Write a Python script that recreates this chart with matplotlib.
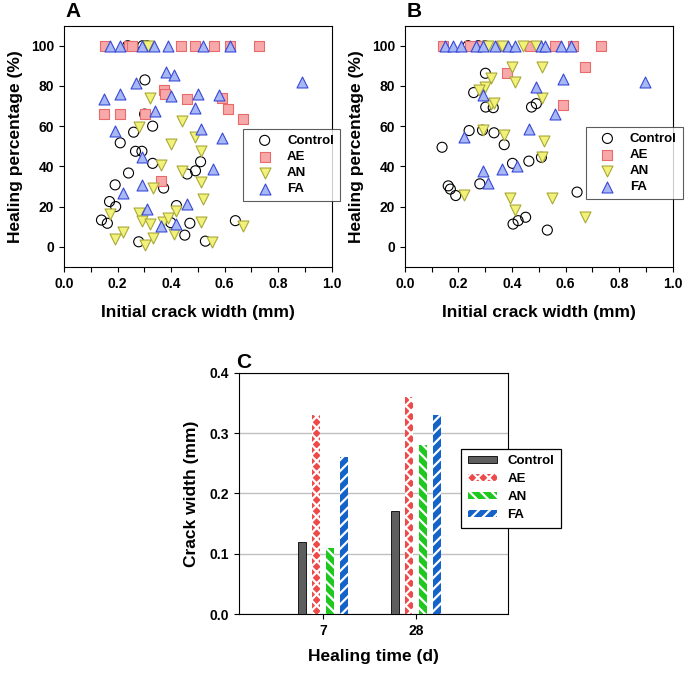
import matplotlib
matplotlib.use("Agg")
import matplotlib.pyplot as plt
import numpy as np
from matplotlib.ticker import MultipleLocator

plt.rcParams['font.family'] = ['Liberation Sans', 'DejaVu Sans']
plt.rcParams['font.weight'] = 'bold'
plt.rcParams['axes.labelweight'] = 'bold'
plt.rcParams['hatch.linewidth'] = 1.6

# --- Panel A data (initial crack width mm, healing %) ---
ctrl_a_x = [0.238, 0.294, 0.31, 0.302, 0.301, 0.331, 0.260, 0.210, 0.267, 0.291, 0.331, 0.510, 0.491,
            0.460, 0.241, 0.191, 0.372, 0.170, 0.193, 0.42, 0.140, 0.162, 0.399, 0.470, 0.640, 0.451,
            0.279, 0.528]
ctrl_a_y = [100, 100, 100, 83, 66, 60, 57, 51.7, 47.5, 47.5, 41.5, 42.3, 37.8, 36.2, 36.7, 30.8, 29.2,
            22.5, 20, 20.5, 13.3, 11.7, 12, 11.7, 13, 5.8, 2.5, 2.8]
ae_a_x = [0.152, 0.244, 0.254, 0.436, 0.491, 0.559, 0.621, 0.730, 0.372, 0.378, 0.460, 0.590, 0.611,
          0.670, 0.149, 0.210, 0.302, 0.362]
ae_a_y = [100, 100, 100, 100, 100, 100, 100, 100, 77.8, 75.8, 73.3, 74.2, 68.3, 63.7, 66.2, 66.2,
          66.2, 32.5]
an_a_x = [0.312, 0.321, 0.442, 0.279, 0.491, 0.401, 0.510, 0.362, 0.442, 0.51, 0.331, 0.519, 0.170,
          0.279, 0.291, 0.321, 0.370, 0.390, 0.42, 0.51, 0.670, 0.22, 0.191, 0.331, 0.411, 0.302, 0.551]
an_a_y = [100, 74.2, 62.5, 59.5, 54.5, 51.2, 47.8, 40.5, 37.5, 32.2, 29.2, 23.8, 16.3, 16.7, 12.8,
          11.2, 12.5, 14.5, 17.8, 12.5, 10.5, 7.5, 3.8, 4.5, 6.2, 0.7, 2.3]
fa_a_x = [0.170, 0.211, 0.291, 0.337, 0.390, 0.520, 0.619, 0.380, 0.411, 0.269, 0.890, 0.149, 0.210,
          0.401, 0.501, 0.580, 0.341, 0.489, 0.191, 0.510, 0.590, 0.558, 0.291, 0.291, 0.222, 0.311,
          0.46, 0.362, 0.42]
fa_a_y = [100, 100, 100, 100, 100, 100, 100, 87, 85.5, 81.7, 82, 73.3, 76.2, 74.8, 76.2, 75.7, 67.5,
          69.2, 57.8, 58.8, 54.2, 38.7, 44.7, 30.5, 26.7, 18.7, 21.2, 10.5, 11.2]

# --- Panel B data ---
ctrl_b_x = [0.236, 0.274, 0.299, 0.301, 0.257, 0.302, 0.330, 0.473, 0.491, 0.240, 0.290, 0.333,
            0.371, 0.139, 0.51, 0.402, 0.463, 0.162, 0.170, 0.190, 0.280, 0.643, 0.404, 0.423,
            0.451, 0.532]
ctrl_b_y = [100, 100, 100, 86.3, 76.7, 69.5, 69.2, 69.5, 71.2, 57.8, 58, 56.7, 50.8, 49.5, 44.5,
            41.5, 42.6, 30.3, 28.7, 25.5, 31.3, 27.2, 11.3, 13, 14.7, 8.3]
ae_b_x = [0.143, 0.243, 0.280, 0.354, 0.466, 0.560, 0.628, 0.731, 0.382, 0.672, 0.591]
ae_b_y = [100, 100, 100, 100, 100, 100, 100, 100, 86.3, 89.2, 70.5]
an_b_x = [0.311, 0.361, 0.442, 0.491, 0.400, 0.512, 0.410, 0.320, 0.301, 0.277, 0.512, 0.321, 0.333,
          0.290, 0.371, 0.520, 0.512, 0.220, 0.392, 0.410, 0.551, 0.674]
an_b_y = [100, 100, 100, 100, 89.2, 89.2, 82, 83.7, 79.5, 77.8, 73.8, 70.8, 71.7, 58.3, 55.8, 52.5,
          44.5, 25.8, 24.2, 18.3, 24.2, 15]
fa_b_x = [0.149, 0.180, 0.211, 0.267, 0.292, 0.336, 0.386, 0.410, 0.510, 0.522, 0.582, 0.622, 0.896,
          0.591, 0.491, 0.290, 0.560, 0.463, 0.220, 0.361, 0.419, 0.290, 0.310]
fa_b_y = [100, 100, 100, 100, 100, 100, 100, 100, 100, 100, 100, 100, 82, 83.3, 79.5, 75.5, 65.8,
          58.7, 54.5, 38.7, 40, 37.5, 31.7]

# --- Panel C data (crack width, mm) ---
days = ['7', '28']
ctrl_c = [0.12, 0.17]
ae_c = [0.33, 0.36]
an_c = [0.11, 0.28]
fa_c = [0.26, 0.33]

groups = ['Control', 'AE', 'AN', 'FA']

fig = plt.figure(figsize=(6.85, 6.74), dpi=100)


def scatter_panel(ax, data, letter, leg_anchor):
    styles = [
        dict(marker='o', s=52, facecolors='none', edgecolors='black', linewidths=0.8),
        dict(marker='s', s=44, facecolors='#f7a8a8', edgecolors='#e86a6a', linewidths=0.8),
        dict(marker='v', s=62, facecolors='#f2f27a', edgecolors='#a8a838', linewidths=0.8),
        dict(marker='^', s=62, facecolors='#a8b8f5', edgecolors='#3848d8', linewidths=0.8),
    ]
    for (x, y), st, lab in zip(data, styles, groups):
        ax.scatter(x, y, label=lab, zorder=3, **st)
    ax.set_xlim(0, 1.0)
    ax.set_ylim(-10, 110)
    ax.xaxis.set_major_locator(MultipleLocator(0.2))
    ax.xaxis.set_minor_locator(MultipleLocator(0.1))
    ax.set_yticks([0, 20, 40, 60, 80, 100])
    ax.tick_params(which='both', direction='out', length=3.5, width=0.8, labelsize=10)
    ax.set_xlabel('Initial crack width (mm)', fontsize=12.5, labelpad=10)
    ax.set_ylabel('Healing percentage (%)', fontsize=12.5, labelpad=6)
    ax.xaxis.set_major_formatter(plt.FuncFormatter(lambda v, p: f'{v:.1f}'))
    leg = ax.legend(loc='upper left', bbox_to_anchor=leg_anchor, borderaxespad=0, fontsize=9.5,
                    frameon=True, fancybox=False, edgecolor='#333333', handlelength=2.4,
                    handletextpad=0.5, labelspacing=0.3, borderpad=0.45)
    leg.get_frame().set_linewidth(0.8)
    leg.set_zorder(5)
    ax.text(0.005, 1.035, letter, transform=ax.transAxes, fontsize=15, fontweight='bold',
            ha='left', va='baseline')


ax_a = fig.add_axes([0.0934, 0.604, 0.391, 0.358])
scatter_panel(ax_a, [(ctrl_a_x, ctrl_a_y), (ae_a_x, ae_a_y), (an_a_x, an_a_y), (fa_a_x, fa_a_y)],
              'A', (0.668, 0.573))

ax_b = fig.add_axes([0.591, 0.604, 0.391, 0.358])
scatter_panel(ax_b, [(ctrl_b_x, ctrl_b_y), (ae_b_x, ae_b_y), (an_b_x, an_b_y), (fa_b_x, fa_b_y)],
              'B', (0.675, 0.581))

# Panel C bars
ax_c = fig.add_axes([0.349, 0.089, 0.393, 0.358])
x = np.arange(len(days))
w = 0.09
step = 0.15
bar_styles = [
    dict(color='#5e5e5e', edgecolor='black', linewidth=0.6),
    dict(color='#ef4a4a', edgecolor='white', hatch='xxx', linewidth=0),
    dict(color='#1ec81e', edgecolor='white', hatch='\\\\\\', linewidth=0),
    dict(color='#1463c8', edgecolor='white', hatch='///', linewidth=0),
]
for i, (vals, st, lab) in enumerate(zip([ctrl_c, ae_c, an_c, fa_c], bar_styles, groups)):
    ax_c.bar(x + (i - 1.5) * step, vals, width=w, label=lab, zorder=3, **st)

ax_c.set_xlim(-0.90, 1.99)
ax_c.set_ylim(0, 0.4)
ax_c.set_xticks(x)
ax_c.set_xticklabels(days)
ax_c.set_yticks([0.0, 0.1, 0.2, 0.3, 0.4])
ax_c.yaxis.set_major_formatter(plt.FuncFormatter(lambda v, p: f'{v:.1f}'))
ax_c.yaxis.grid(True, color='#c0c0c0', linewidth=1.0, zorder=0)
ax_c.set_axisbelow(True)
ax_c.tick_params(direction='out', length=3.5, width=0.8, labelsize=10)
ax_c.set_xlabel('Healing time (d)', fontsize=12.5, labelpad=8)
ax_c.set_ylabel('Crack width (mm)', fontsize=12.5, labelpad=8)
leg_c = ax_c.legend(loc='upper left', bbox_to_anchor=(0.825, 0.685), borderaxespad=0, fontsize=9.5,
                    frameon=True, fancybox=False, edgecolor='black', handlelength=2.2,
                    handleheight=0.5, handletextpad=0.8, labelspacing=0.45, borderpad=0.5,
                    framealpha=1)
leg_c.get_frame().set_linewidth(0.9)
ax_c.text(-0.01, 1.02, 'C', transform=ax_c.transAxes, fontsize=15, fontweight='bold',
          ha='left', va='baseline')

fig.savefig('out.png', dpi=100)
plt.close(fig)
